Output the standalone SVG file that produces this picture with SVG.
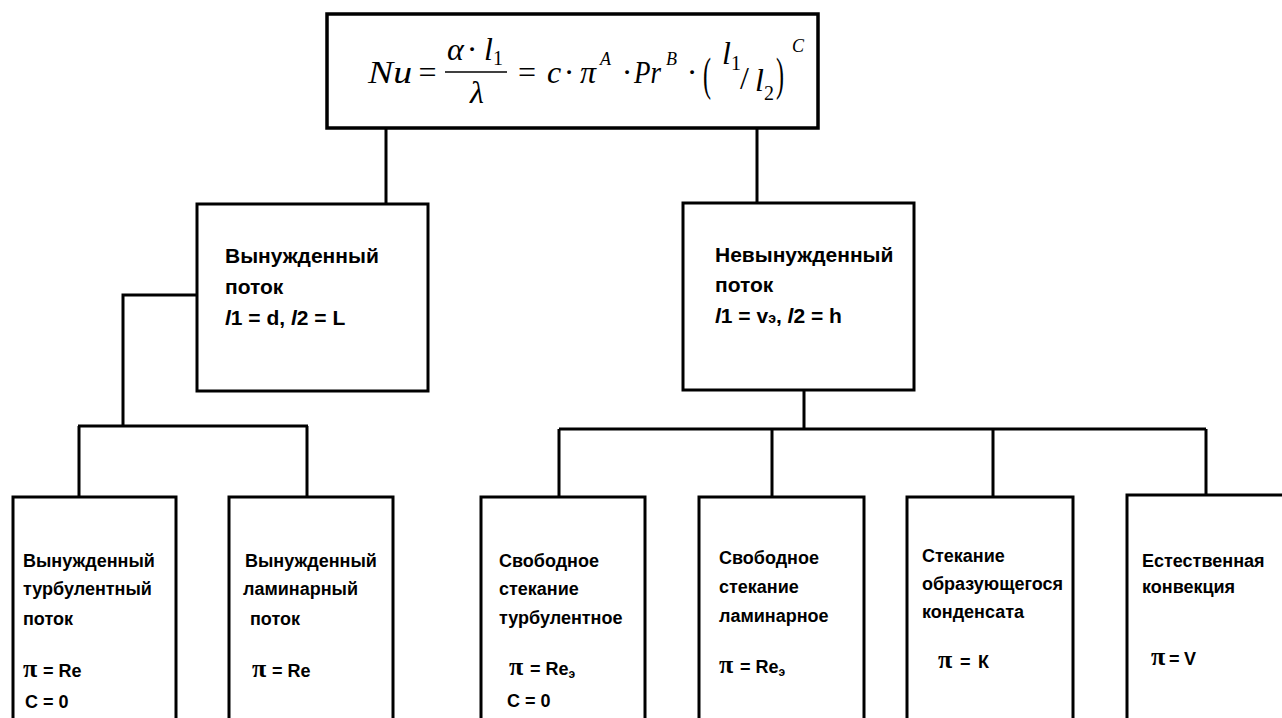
<svg xmlns="http://www.w3.org/2000/svg" width="1282" height="718" viewBox="0 0 1282 718">
<style>
.box{fill:#fff;stroke:#000;stroke-width:3}
.ln{fill:none;stroke:#000;stroke-width:3}
.m{font-family:"Liberation Serif",serif;font-style:italic;font-size:32px;fill:#000}
.mr{font-family:"Liberation Serif",serif;font-style:normal;font-size:32px;fill:#000}
.sub{font-family:"Liberation Serif",serif;font-size:20px;fill:#000}
.sup{font-family:"Liberation Serif",serif;font-style:italic;font-size:18px;fill:#000}
.t{font-family:"Liberation Sans",Arial,sans-serif;font-weight:bold;font-size:18px;fill:#000}
.tm{font-family:"Liberation Sans",Arial,sans-serif;font-weight:bold;font-size:21px;fill:#000}
.pi{font-family:"Liberation Serif",serif;font-weight:bold;font-size:26px}
.e{font-size:12px}
</style>
<rect x="0" y="0" width="1282" height="718" fill="#fff"/>
<g id="connectors">
<path class="ln" d="M386 128V204M757 128V203"/>
<path class="ln" d="M197 295H123V426M78 426H308M79 426V497M307 426V497"/>
<path class="ln" d="M804 390V429M559 429H1206M559 429V497M772 429V497M993 429V497M1206 429V495"/>
</g>
<g id="formula-node">
<rect x="327" y="14" width="491" height="114" fill="#fff" stroke="#000" stroke-width="3.5"/>
<text class="m" x="368" y="83" textLength="44" lengthAdjust="spacingAndGlyphs">Nu</text>
<text class="mr" x="427.5" y="83" text-anchor="middle">=</text>
<line x1="445" y1="72" x2="507" y2="72" stroke="#000" stroke-width="1.5"/>
<text class="m" x="447" y="60">α</text>
<text class="mr" x="472" y="60" text-anchor="middle">·</text>
<text class="m" x="484" y="60">l</text>
<text class="sub" x="493" y="65">1</text>
<text class="m" x="477" y="103" text-anchor="middle">λ</text>
<text class="mr" x="527" y="83" text-anchor="middle">=</text>
<text class="m" x="547" y="83">c</text>
<text class="mr" x="569" y="83" text-anchor="middle">·</text>
<text class="m" x="580" y="83" font-size="36">π</text>
<text class="sup" x="600" y="65">A</text>
<text class="mr" x="627" y="83" text-anchor="middle">·</text>
<text class="m" x="634" y="83" textLength="27" lengthAdjust="spacingAndGlyphs">Pr</text>
<text class="sup" x="666" y="65">B</text>
<text class="mr" x="692" y="83" text-anchor="middle">·</text>
<text class="mr" transform="translate(703,90) scale(0.75,1.45)" font-size="44">(</text>
<text class="m" x="722" y="64">l</text>
<text class="sub" x="731" y="70">1</text>
<text class="mr" x="740" y="89">/</text>
<text class="m" x="755" y="91">l</text>
<text class="sub" x="764" y="100">2</text>
<text class="mr" transform="translate(776,90) scale(0.75,1.45)" font-size="44">)</text>
<text class="sup" x="792" y="52">C</text>
</g>
<g id="forced-flow">
<rect class="box" x="197" y="204" width="231" height="187"/>
<text class="tm" x="225" y="263">Вынужденный</text>
<text class="tm" x="225" y="294">поток</text>
<text class="tm" x="225" y="325"><tspan font-style="italic">l</tspan>1 = d, <tspan font-style="italic">l</tspan>2 = L</text>
</g>
<g id="unforced-flow">
<rect class="box" x="683" y="203" width="231" height="187"/>
<text class="tm" x="715" y="262">Невынужденный</text>
<text class="tm" x="715" y="292">поток</text>
<text class="tm" x="715" y="323"><tspan font-style="italic">l</tspan>1 = v<tspan font-size="14">э</tspan>, <tspan font-style="italic">l</tspan>2 = h</text>
</g>
<g id="forced-turbulent">
<rect class="box" x="13" y="497" width="163" height="240"/>
<text class="t" x="23" y="567">Вынужденный</text>
<text class="t" x="23" y="595">турбулентный</text>
<text class="t" x="23" y="625">поток</text>
<text class="t" x="23" y="677"><tspan class="pi">π</tspan><tspan x="43">= Re</tspan></text>
<text class="t" x="25" y="708">C = 0</text>
</g>
<g id="forced-laminar">
<rect class="box" x="229" y="497" width="164" height="240"/>
<text class="t" x="245" y="567">Вынужденный</text>
<text class="t" x="243" y="595">ламинарный</text>
<text class="t" x="250" y="625">поток</text>
<text class="t" x="252" y="677"><tspan class="pi">π</tspan><tspan x="272">= Re</tspan></text>
</g>
<g id="free-turbulent">
<rect class="box" x="481" y="497" width="164" height="240"/>
<text class="t" x="499" y="567">Свободное</text>
<text class="t" x="499" y="595">стекание</text>
<text class="t" x="499" y="624">турбулентное</text>
<text class="t" x="509" y="675"><tspan class="pi">π</tspan><tspan x="530">= Re</tspan><tspan class="e" dy="3">э</tspan></text>
<text class="t" x="507" y="707">C = 0</text>
</g>
<g id="free-laminar">
<rect class="box" x="699" y="497" width="165" height="240"/>
<text class="t" x="719" y="564">Свободное</text>
<text class="t" x="719" y="593">стекание</text>
<text class="t" x="719" y="622">ламинарное</text>
<text class="t" x="719" y="673"><tspan class="pi">π</tspan><tspan x="740">= Re</tspan><tspan class="e" dy="3">э</tspan></text>
</g>
<g id="condensate">
<rect class="box" x="907" y="497" width="166" height="240"/>
<text class="t" x="922" y="562">Стекание</text>
<text class="t" x="922" y="590">образующегося</text>
<text class="t" x="922" y="618">конденсата</text>
<text class="t" x="938" y="668"><tspan class="pi">π</tspan><tspan x="960">=</tspan><tspan x="978">К</tspan></text>
</g>
<g id="natural-convection">
<rect class="box" x="1127" y="495" width="180" height="240"/>
<text class="t" x="1142" y="567">Естественная</text>
<text class="t" x="1142" y="593">конвекция</text>
<text class="t" x="1151" y="665"><tspan class="pi">π</tspan><tspan x="1169">=</tspan><tspan x="1184">V</tspan></text>
</g>
</svg>
